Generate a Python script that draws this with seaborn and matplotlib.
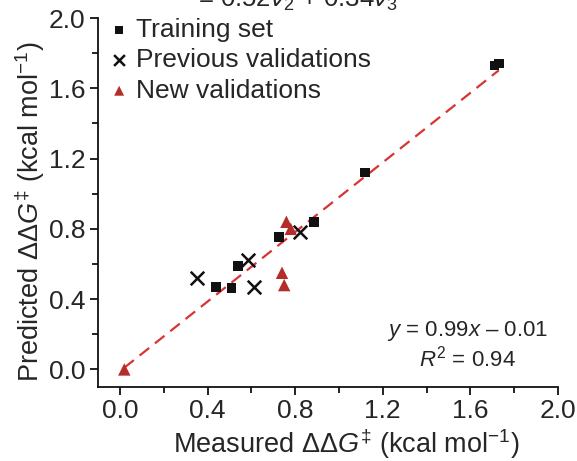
import numpy as np
import pandas as pd
import matplotlib
matplotlib.use('Agg')
import matplotlib.pyplot as plt
import seaborn as sns

# Training set (measured, predicted) in kcal/mol
train_meas = [1.71, 1.73, 1.12, 0.885, 0.726, 0.54, 0.44, 0.51]
train_pred = [1.73, 1.74, 1.12, 0.84, 0.755, 0.59, 0.47, 0.465]

# Previous validations
prev_meas = [0.35, 0.585, 0.61, 0.82]
prev_pred = [0.52, 0.62, 0.47, 0.78]

# New validations
new_meas = [0.76, 0.78, 0.74, 0.75, 0.02]
new_pred = [0.84, 0.80, 0.55, 0.48, 0.0]

# fit line y = 0.99x - 0.01
fit_slope = 0.99
fit_icpt = -0.01
fit_range = [0.02, 1.73]

ticks = [0.0, 0.4, 0.8, 1.2, 1.6, 2.0]
minor = [0.2, 0.6, 1.0, 1.4, 1.8]

sns.set_style('ticks')
plt.rcParams['font.family'] = ['Liberation Sans', 'DejaVu Sans']
plt.rcParams['mathtext.fontset'] = 'custom'
plt.rcParams['mathtext.rm'] = 'Liberation Sans'
plt.rcParams['mathtext.it'] = 'Liberation Sans:italic'
plt.rcParams['mathtext.bf'] = 'Liberation Sans:bold'

RED_PT = '#b32d2b'
RED_LN = '#d93434'
FS = 19

fig = plt.figure(figsize=(5.77, 4.61), dpi=100)
ax = fig.add_axes([98 / 577, 1 - 387 / 461, 460 / 577, 369 / 461])

fit_df = pd.DataFrame({'x': fit_range})
fit_df['y'] = fit_slope * fit_df['x'] + fit_icpt
sns.lineplot(data=fit_df, x='x', y='y', ax=ax, color=RED_LN, lw=1.6,
             dashes=False, zorder=1)
ax.lines[-1].set_dashes((5.5, 3.3))

sns.scatterplot(x=train_meas, y=train_pred, ax=ax, marker='s', s=48,
                color='#111111', edgecolor='none', label='Training set', zorder=3)
sns.scatterplot(x=prev_meas, y=prev_pred, ax=ax, marker='x', s=95,
                color='#111111', linewidth=1.8, label='Previous validations', zorder=3)
sns.scatterplot(x=new_meas, y=new_pred, ax=ax, marker='^', s=80,
                color=RED_PT, edgecolor='none', label='New validations', zorder=3)

ax.set_xlim(-0.1, 2.0)
ax.set_ylim(-0.1, 2.0)
ax.set_xticks(ticks)
ax.set_yticks(ticks)
ax.set_xticks(minor, minor=True)
ax.set_yticks(minor, minor=True)
ax.set_xticklabels([f'{t:.1f}' for t in ticks])
ax.set_yticklabels([f'{t:.1f}' for t in ticks])
ax.tick_params(which='major', direction='out', length=6, width=1.3,
               labelsize=FS, pad=3, color='#111111')
ax.tick_params(which='minor', direction='out', length=4, width=1.3, color='#111111')
sns.despine(ax=ax)
for s in ('left', 'bottom'):
    ax.spines[s].set_linewidth(1.3)
    ax.spines[s].set_color('#111111')

ax.set_xlabel(r'Measured $\Delta\Delta G^{‡}$ (kcal mol$^{-1}$)', fontsize=19.5)
ax.set_ylabel(r'Predicted $\Delta\Delta G^{‡}$ (kcal mol$^{-1}$)', fontsize=19.5)
ax.xaxis.set_label_coords(0.54, -0.108)
ax.yaxis.set_label_coords(-0.111, 0.475)

ax.text(1.587, 0.216, r'$y$ = 0.99$x$ – 0.01', fontsize=16, ha='center', va='center')
ax.text(1.587, 0.0625, r'$R^2$ = 0.94', fontsize=16, ha='center', va='center')

# clipped equation at the top of the panel
fig.text(198 / 577, 1 - 7 / 461, r'= 0.52$\nu_2$ + 0.34$\nu_3$', fontsize=18.5,
         ha='left', va='baseline')

leg = ax.legend(loc='upper left', bbox_to_anchor=(0.023, 1.0), frameon=False,
                fontsize=FS, borderpad=0, borderaxespad=0, handlelength=0.8,
                handletextpad=0.25, labelspacing=0.24, markerscale=0.8)

fig.savefig('out.png', dpi=100)
